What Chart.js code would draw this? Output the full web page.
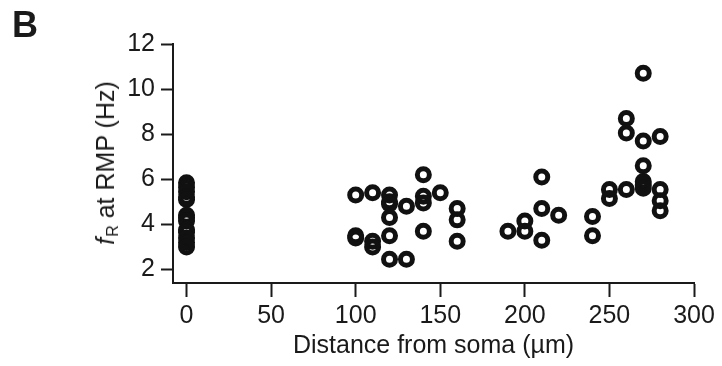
<!DOCTYPE html>
<html>
<head>
<meta charset="utf-8">
<script src="https://cdn.jsdelivr.net/npm/chart.js@4.4.1/dist/chart.umd.min.js"></script>
<style>
  html, body { margin: 0; padding: 0; background: #fff; }
  #wrap { position: relative; width: 722px; height: 366px; font-family: "Liberation Sans", Arial, sans-serif; color: #1a1a1a; }
  #panel { position: absolute; left: 12px; top: 7px; font-size: 36px; line-height: 36px; font-weight: bold; }
  #ytitle {
    position: absolute; left: 109px; top: 163px; font-size: 25px; line-height: 30px;
    white-space: nowrap; transform: translate(-50%, -50%) rotate(-90deg);
  }
  #ytitle sub { font-size: 16px; vertical-align: -4px; margin-left: 1px; }
  canvas { position: absolute; left: 0; top: 0; }
</style>
</head>
<body>
<div id="wrap">
  <canvas id="c" width="722" height="366"></canvas>
  <div id="panel">B</div>
  <div id="ytitle"><i>f</i><sub>R</sub> at RMP (Hz)</div>
</div>
<script>
/* Resonance frequency vs. distance from soma — open-circle scatter. */
(() => {
  "use strict";

  // distance from soma (µm) and f_R at RMP (Hz), paired by index
  const distance = [
    0, 0, 0, 0, 0, 0, 0, 0, 0, 0, 0, 0, 0,
    100, 100, 100,
    110, 110, 110,
    120, 120, 120, 120, 120, 120,
    130, 130,
    140, 140, 140, 140,
    150,
    160, 160, 160,
    190,
    200, 200,
    210, 210, 210,
    220,
    240, 240,
    250, 250,
    260, 260, 260,
    270, 270, 270, 270, 270, 270,
    280, 280, 280, 280,
  ];
  const freq = [
    5.85, 5.65, 5.45, 5.2, 5.1, 4.4, 4.3, 4.15, 3.75, 3.65, 3.4, 3.2, 3.0,
    5.3, 3.5, 3.4,
    5.4, 3.25, 3.0,
    5.3, 5.0, 4.9, 4.3, 3.5, 2.45,
    4.8, 2.45,
    6.2, 5.25, 4.95, 3.7,
    5.4,
    4.7, 4.2, 3.25,
    3.7,
    4.15, 3.7,
    6.1, 4.7, 3.3,
    4.4,
    4.35, 3.5,
    5.55, 5.15,
    8.7, 8.05, 5.55,
    10.7, 7.7, 6.6, 5.9, 5.75, 5.6,
    7.9, 5.55, 5.05, 4.6,
  ];
  const xTicks = [0, 50, 100, 150, 200, 250, 300];
  const yTicks = [2, 4, 6, 8, 10, 12];
  const xTitle = "Distance from soma (µm)";

  const INK = "#1a1a1a";
  Chart.defaults.font.family = "'Liberation Sans', Arial, sans-serif";
  Chart.defaults.font.size = 25;
  Chart.defaults.color = INK;

  const points = distance.map((d, i) => ({ x: d, y: freq[i] }));
  const fixTicks = (list) => (scale) => { scale.ticks = list.map((v) => ({ value: v })); };

  new Chart(document.getElementById("c").getContext("2d"), {
    type: "scatter",
    data: {
      datasets: [{
        data: points,
        pointStyle: "circle",
        pointRadius: 6,
        pointBorderWidth: 5,
        pointBorderColor: "#111",
        pointBackgroundColor: "rgba(0,0,0,0)",
        pointHoverRadius: 6,
      }],
    },
    options: {
      responsive: false, animation: false, devicePixelRatio: 1,
      layout: { padding: { left: 0, top: 44, right: 28, bottom: 0 } },
      plugins: { legend: { display: false }, tooltip: { enabled: false } },
      scales: {
        x: {
          type: "linear", min: -8, max: 300,
          afterBuildTicks: fixTicks(xTicks),
          afterFit: (s) => { s.height = 83; },
          grid: { drawOnChartArea: false, drawTicks: true, tickLength: 14, tickWidth: 2, tickColor: INK },
          border: { display: true, width: 2, color: INK },
          ticks: { padding: 4, maxRotation: 0 },
          title: { display: true, text: xTitle, padding: { top: 0, bottom: 5 } },
        },
        y: {
          type: "linear", min: 1.4, max: 12,
          afterBuildTicks: fixTicks(yTicks),
          afterFit: (s) => { s.width = 173; },
          grid: { drawOnChartArea: false, drawTicks: true, tickLength: 12, tickWidth: 2, tickColor: INK },
          border: { display: true, width: 2, color: INK },
          ticks: { padding: 6 },
        },
      },
    },
  });
})();
</script>
</body>
</html>
